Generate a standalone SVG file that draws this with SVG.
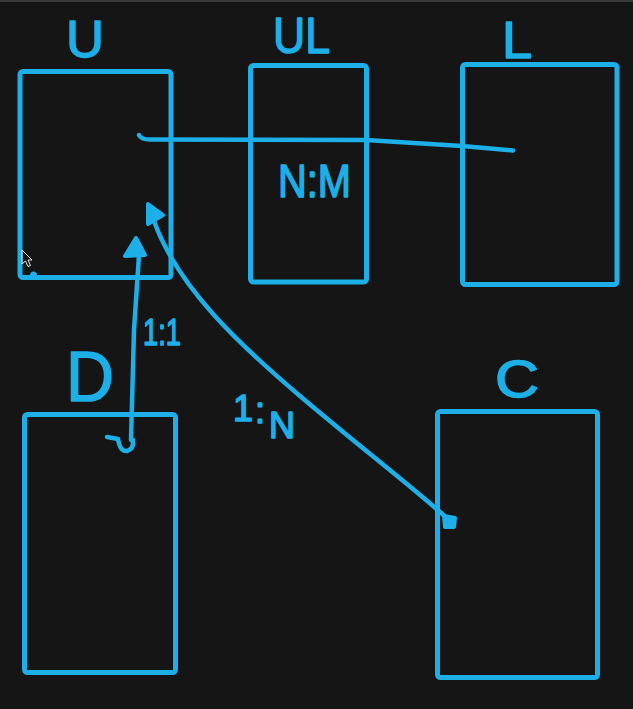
<svg xmlns="http://www.w3.org/2000/svg" width="633" height="709" viewBox="0 0 633 709">
<defs>
<style>
.box{fill:none;stroke:#1cafe8;stroke-width:5;stroke-linejoin:round}
.ln{fill:none;stroke:#1cafe8;stroke-width:4.5;stroke-linecap:round;stroke-linejoin:round}
.head{fill:#1cafe8;stroke:#1cafe8;stroke-width:4;stroke-linejoin:round}
.lbl{fill:#1cafe8;stroke:#1cafe8;stroke-width:1.5;stroke-linejoin:round;font-family:"Liberation Sans","DejaVu Sans",sans-serif}
</style>
</defs>
<rect width="633" height="709" fill="#151515"/>
<rect width="633" height="2" fill="#3a3a3a"/>
<g id="node-U">
<rect class="box" x="20" y="71.5" width="151" height="206" rx="3"/>
<text class="lbl" x="66" y="57" font-size="52" textLength="38" lengthAdjust="spacingAndGlyphs">U</text>
<path d="M30,275 a3.5,3.5 0 0 1 7,0 z" fill="#1cafe8"/>
<path d="M22,250 L22,264 L25.5,261 L28,266.5 L30.5,265.5 L28,260 L32,260 Z" fill="none" stroke="#e8e8e8" stroke-width="1"/>
</g>
<g id="node-UL">
<rect class="box" x="250.5" y="65.5" width="116" height="216.5" rx="3"/>
<text class="lbl" x="273" y="53" font-size="50" textLength="57" lengthAdjust="spacingAndGlyphs">UL</text>
<text class="lbl" x="278" y="197" font-size="46" textLength="73" lengthAdjust="spacingAndGlyphs">N:M</text>
</g>
<g id="node-L">
<rect class="box" x="462.5" y="64.5" width="154.5" height="220" rx="3"/>
<text class="lbl" x="502" y="58" font-size="52" textLength="30" lengthAdjust="spacingAndGlyphs">L</text>
</g>
<g id="node-D">
<rect class="box" x="24.5" y="414.5" width="151" height="258" rx="3"/>
<text class="lbl" x="66" y="401" font-size="70" textLength="48" lengthAdjust="spacingAndGlyphs">D</text>
</g>
<g id="node-C">
<rect class="box" x="437.5" y="411.5" width="160" height="266" rx="3"/>
<text class="lbl" x="495" y="397" font-size="52" textLength="44" lengthAdjust="spacingAndGlyphs">C</text>
</g>
<g id="connectors">
<path class="ln" d="M139,135 Q141,140 152,139.5 L366,140 L462,146 L513,150.5"/>
<path class="ln" d="M139,255 L134,330 L131,440"/>
<polygon class="head" points="136,238 125,256 145,255"/>
<path class="ln" d="M107,437 L118,439 Q120,452 127,451 Q134,449 133,440"/>
<path class="ln" d="M154,221 C178,288 240,345 300,396 S410,485 448,519"/>
<polygon class="head" points="148,204 163,215 148,224"/>
<polygon class="head" points="444,516 455,518 454,527 445,527"/>
<text class="lbl" x="143" y="345" font-size="37" textLength="38" lengthAdjust="spacingAndGlyphs">1:1</text>
<text class="lbl" font-size="36"><tspan x="233" y="421">1</tspan><tspan x="255" y="423">:</tspan><tspan x="269" y="438">N</tspan></text>
</g>
</svg>
